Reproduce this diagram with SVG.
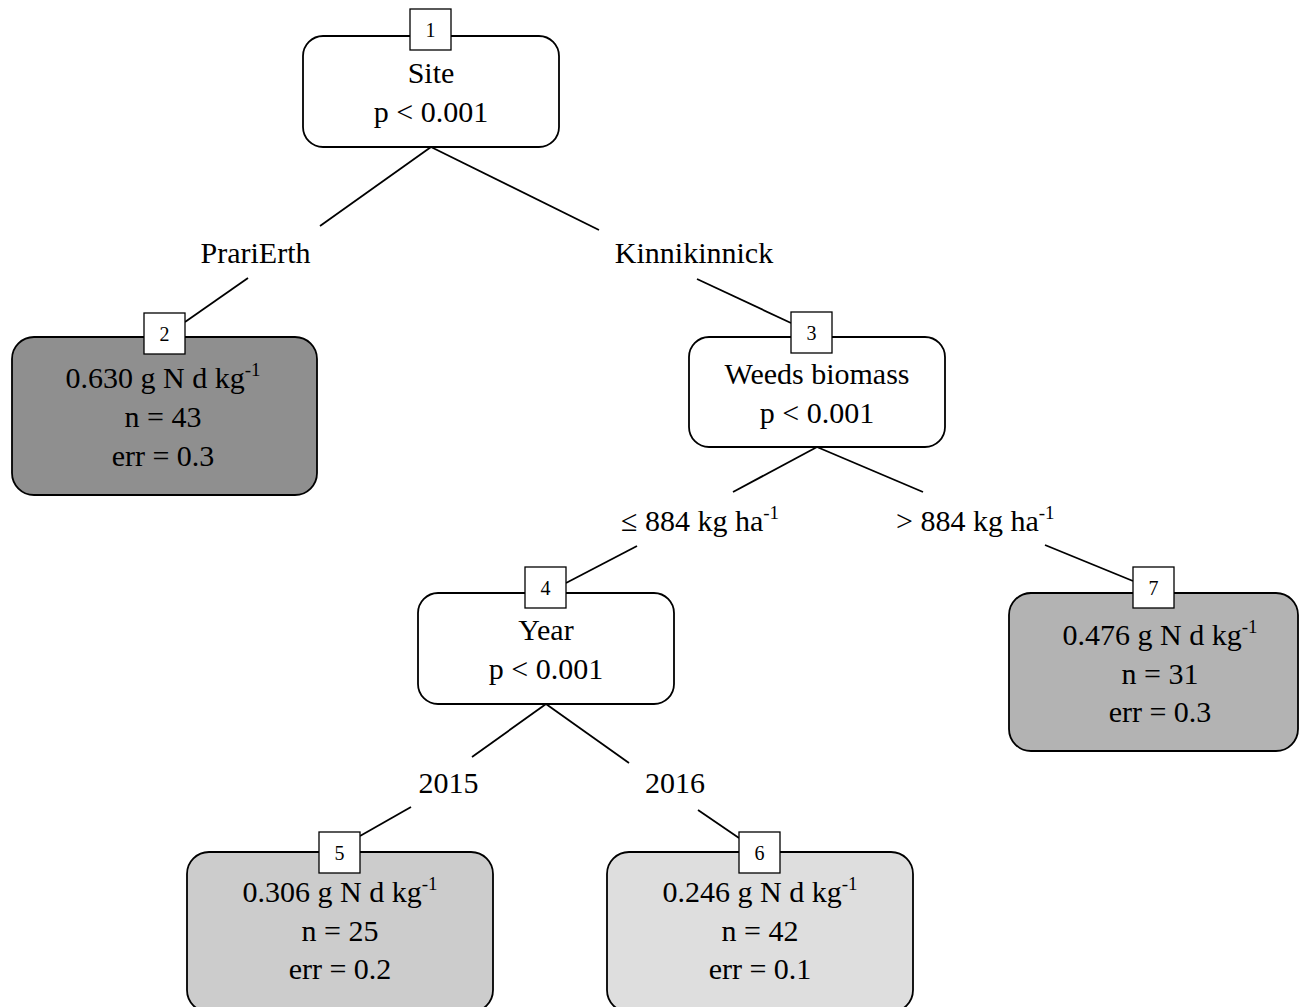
<svg xmlns="http://www.w3.org/2000/svg" width="1300" height="1007" viewBox="0 0 1300 1007">
<style>
.node{stroke:#000;stroke-width:1.8}
.inner{fill:#fff}
.t{font-family:"Liberation Serif","Times New Roman",serif;font-size:30px;fill:#000;text-anchor:middle}
.ts{font-family:"Liberation Serif","Times New Roman",serif;font-size:30px;fill:#000}
.num{fill:#fff;stroke:#000;stroke-width:1.3}
.nt{font-family:"Liberation Serif","Times New Roman",serif;font-size:20px;fill:#000;text-anchor:middle}
.sup{font-size:19px}
.edge{stroke:#000;stroke-width:1.8;fill:none}
</style>
<rect width="1300" height="1007" fill="#fff"/>
<g id="connectors">
<line class="edge" x1="431" y1="147" x2="320" y2="226"/>
<line class="edge" x1="431" y1="147" x2="599" y2="230"/>
<line class="edge" x1="248" y1="278" x2="185" y2="322"/>
<line class="edge" x1="697" y1="279" x2="791" y2="323"/>
<line class="edge" x1="817" y1="447" x2="733" y2="492"/>
<line class="edge" x1="817" y1="447" x2="923" y2="492"/>
<line class="edge" x1="637" y1="546" x2="566" y2="583"/>
<line class="edge" x1="1045" y1="545" x2="1133" y2="581"/>
<line class="edge" x1="546" y1="704" x2="472" y2="757"/>
<line class="edge" x1="546" y1="704" x2="629" y2="763"/>
<line class="edge" x1="411" y1="807" x2="360" y2="836"/>
<line class="edge" x1="698" y1="810" x2="739" y2="838"/>
<text class="t" x="255.5" y="263">PrariErth</text>
<text class="t" x="694" y="263">Kinnikinnick</text>
<text class="ts" x="621" y="531">≤ 884 kg ha<tspan class="sup" dy="-12">-1</tspan></text>
<text class="ts" x="896" y="531">&gt; 884 kg ha<tspan class="sup" dy="-12">-1</tspan></text>
<text class="t" x="448.5" y="793">2015</text>
<text class="t" x="675" y="793">2016</text>
</g>
<g id="node1">
<rect class="node inner" x="303" y="36" width="256" height="111" rx="20"/>
<text class="t" x="431" y="83">Site</text>
<text class="t" x="431" y="122">p &lt; 0.001</text>
<rect class="num" x="410" y="9" width="41" height="41"/>
<text class="nt" x="430.5" y="36.5">1</text>
</g>
<g id="node2">
<rect class="node" fill="#8f8f8f" x="12" y="337" width="305" height="158" rx="22"/>
<text class="t" x="163" y="388">0.630 g N d kg<tspan class="sup" dy="-12">-1</tspan></text>
<text class="t" x="163" y="427">n = 43</text>
<text class="t" x="163" y="466">err = 0.3</text>
<rect class="num" x="144" y="313" width="41" height="41"/>
<text class="nt" x="164.5" y="340.5">2</text>
</g>
<g id="node3">
<rect class="node inner" x="689" y="337" width="256" height="110" rx="20"/>
<text class="t" x="817" y="384">Weeds biomass</text>
<text class="t" x="817" y="423">p &lt; 0.001</text>
<rect class="num" x="791" y="312" width="41" height="41"/>
<text class="nt" x="811.5" y="339.5">3</text>
</g>
<g id="node4">
<rect class="node inner" x="418" y="593" width="256" height="111" rx="20"/>
<text class="t" x="546" y="640">Year</text>
<text class="t" x="546" y="679">p &lt; 0.001</text>
<rect class="num" x="525" y="567" width="41" height="41"/>
<text class="nt" x="545.5" y="594.5">4</text>
</g>
<g id="node5">
<rect class="node" fill="#cccccc" x="187" y="852" width="306" height="160" rx="22"/>
<text class="t" x="340" y="902">0.306 g N d kg<tspan class="sup" dy="-12">-1</tspan></text>
<text class="t" x="340" y="941">n = 25</text>
<text class="t" x="340" y="979">err = 0.2</text>
<rect class="num" x="319" y="832" width="41" height="41"/>
<text class="nt" x="339.5" y="859.5">5</text>
</g>
<g id="node6">
<rect class="node" fill="#dedede" x="607" y="852" width="306" height="160" rx="22"/>
<text class="t" x="760" y="902">0.246 g N d kg<tspan class="sup" dy="-12">-1</tspan></text>
<text class="t" x="760" y="941">n = 42</text>
<text class="t" x="760" y="979">err = 0.1</text>
<rect class="num" x="739" y="832" width="41" height="41"/>
<text class="nt" x="759.5" y="859.5">6</text>
</g>
<g id="node7">
<rect class="node" fill="#b3b3b3" x="1009" y="593" width="289" height="158" rx="22"/>
<text class="t" x="1160" y="645">0.476 g N d kg<tspan class="sup" dy="-12">-1</tspan></text>
<text class="t" x="1160" y="684">n = 31</text>
<text class="t" x="1160" y="722">err = 0.3</text>
<rect class="num" x="1133" y="567" width="41" height="41"/>
<text class="nt" x="1153.5" y="594.5">7</text>
</g>
</svg>
